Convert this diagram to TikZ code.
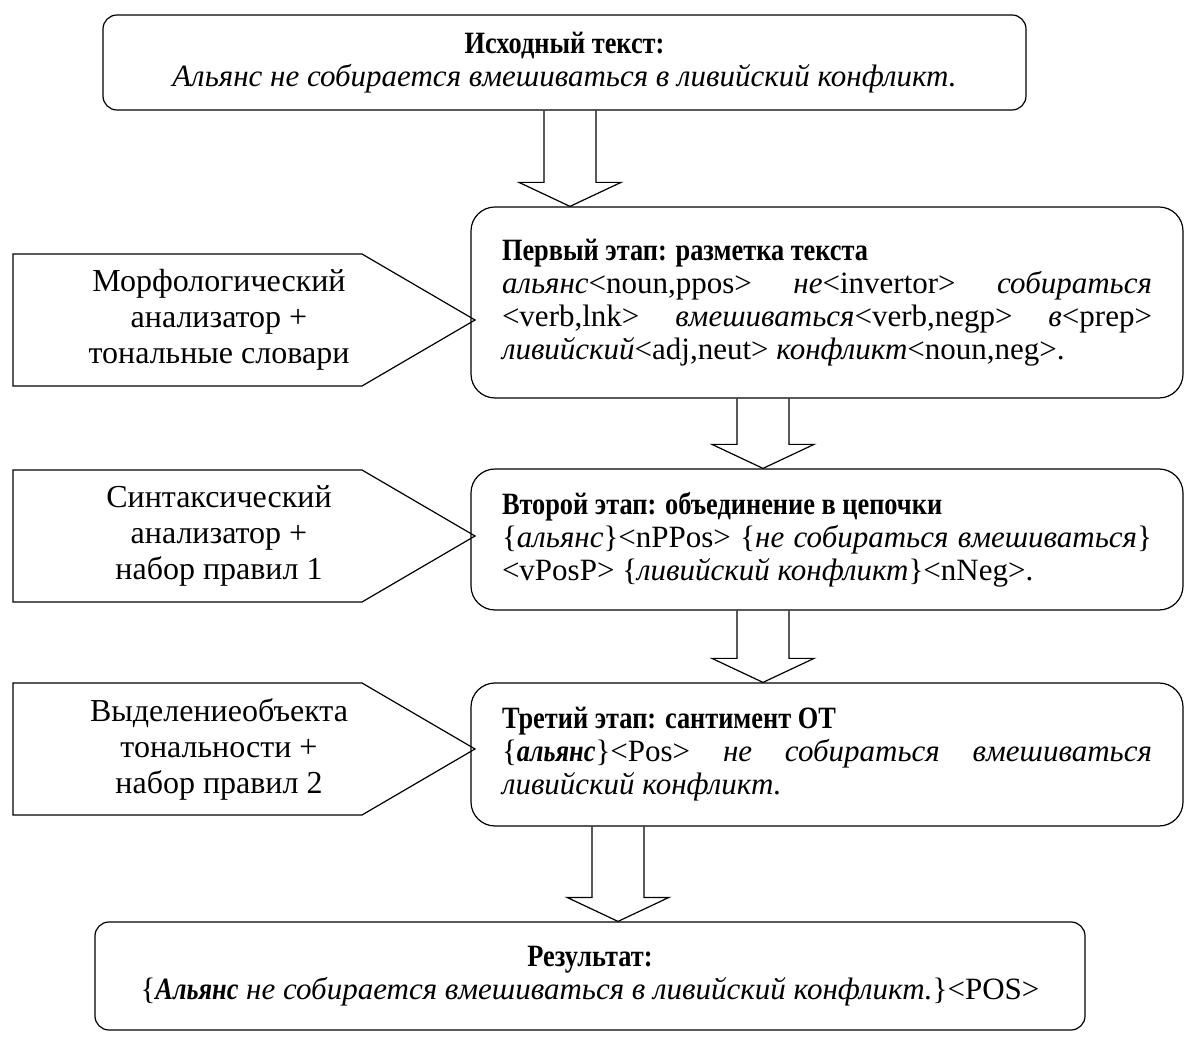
\documentclass[tikz,border=0pt]{standalone}
\usepackage{fontspec}
\setmainfont{Liberation Serif}[BoldFeatures={FakeStretch=0.85}, BoldItalicFeatures={FakeStretch=0.85}]
\usepackage{tikz}
\usetikzlibrary{calc, positioning}

\tikzset{
    rambox/.style={draw, line width=0.6pt, rounded corners=7pt, align=center, inner sep=0pt},
    etap/.style={draw, line width=0.6pt, rounded corners=12pt, text width=325pt, align=justify, inner sep=0pt},
    pent/.style={draw, line width=0.6pt},
    tooltxt/.style={align=center, inner sep=0pt, font=\fontsize{16}{18}\selectfont}
}

% полая стрелка вниз: x, верхний узел, нижний узел
\newcommand{\strelka}[3]{%
    \path (#1,0 |- #2.south) coordinate (s) (#1,0 |- #3.north) coordinate (e);
    \draw[line width=0.6pt] ($(s)+(-26,0)$) -- ($(e)+(-26,-24)$) -- ($(e)+(-51,-24)$)
        -- (e) -- ($(e)+(51,-24)$) -- ($(e)+(26,-24)$) -- ($(s)+(26,0)$);
}

\begin{document}
\begin{tikzpicture}[x=0.5pt, y=-0.5pt, font=\fontsize{15.5}{16.5}\selectfont]
    \useasboundingbox (0,0) rectangle (1185,1037);

    % 1. Исходный текст
    \node[rambox, minimum width=461.5pt, minimum height=47.5pt] (src) at (564.5,62.5)
        {\textbf{Исходный текст:}\\ \textit{Альянс не собирается вмешиваться в ливийский конфликт.}};

    % 2. Этапы
    \node[etap, minimum width=356pt, minimum height=95.5pt] (et1) at (827,302.5)
        {\textbf{Первый этап: разметка текста}\\
        \textit{альянс}<noun,ppos> \textit{не}<invertor> \textit{собираться}\linebreak
        <verb,lnk> \textit{вмешиваться}<verb,negp> \textit{в}<prep>\linebreak
        \textit{ливийский}<adj,neut> \textit{конфликт}<noun,neg>.};
    \node[etap, minimum width=356pt, minimum height=70.5pt] (et2) at (827,539.5)
        {\textbf{Второй этап: объединение в цепочки}\\
        \{\textit{альянс}\}<nPPos> \{\textit{не собираться вмешиваться}\}\linebreak
        <vPosP> \{\textit{ливийский конфликт}\}<nNeg>.};
    \node[etap, minimum width=356pt, minimum height=71.5pt] (et3) at (827,754.5)
        {\textbf{Третий этап: сантимент ОТ}\\
        \{\textbf{\textit{альянс}}\}<Pos> \textit{не собираться вмешиваться}\linebreak
        \textit{ливийский конфликт.}};

    % 3. Результат
    \node[rambox, minimum width=495pt, minimum height=54pt] (res) at (590,976)
        {\textbf{Результат:}\\ \{\textbf{\textit{Альянс}} \textit{не собирается вмешиваться в ливийский конфликт.}\}<POS>};

    % 4. Стрелки между блоками
    \strelka{570}{src}{et1}
    \strelka{763}{et1}{et2}
    \strelka{763}{et2}{et3}
    \strelka{618}{et3}{res}

    % 5. Инструменты слева
    \foreach \yc/\nm/\txt in {320/morf/{Морфологический\\анализатор +\\тональные словари},
                              536/sint/{Синтаксический\\анализатор +\\набор правил 1},
                              749/vyd/{Выделениеобъекта\\тональности +\\набор правил 2}} {
        \draw[pent] (13,\yc-66) -- (362,\yc-66) -- (475,\yc) -- (362,\yc+66) -- (13,\yc+66) -- cycle;
        \node[tooltxt] (\nm) at (219,\yc) {\txt};
    }
\end{tikzpicture}
\end{document}
